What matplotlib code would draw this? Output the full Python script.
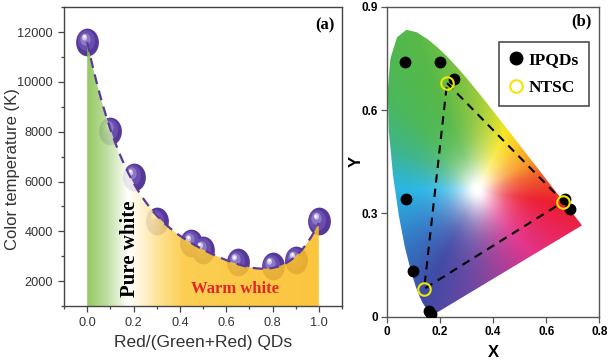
import numpy as np
import matplotlib
matplotlib.use("Agg")
import matplotlib.pyplot as plt
from matplotlib.path import Path
from matplotlib.markers import MarkerStyle
from matplotlib.transforms import Affine2D, ScaledTranslation
from matplotlib.colors import LinearSegmentedColormap, to_rgb
from matplotlib.patches import Polygon
from matplotlib.lines import Line2D
from matplotlib.ticker import MultipleLocator, FixedLocator

SANS = ["Liberation Sans", "DejaVu Sans"]
SERIF = ["Liberation Serif", "DejaVu Serif"]

# ---------------- panel (a): colour temperature vs red QD fraction ----------
red_fraction = [0.0, 0.1, 0.2, 0.3, 0.45, 0.5, 0.65, 0.8, 0.9, 1.0]
cct_kelvin = [11600, 8050, 6200, 4400, 3550, 3250, 2750, 2600, 2850, 4400]
a_xticks = [0.0, 0.2, 0.4, 0.6, 0.8, 1.0]
a_xticklabels = ["0.0", "0.2", "0.4", "0.6", "0.8", "1.0"]
a_yticks = [2000, 4000, 6000, 8000, 10000, 12000]
a_yticklabels = ["2000", "4000", "6000", "8000", "10000", "12000"]

# ---------------- panel (b): CIE 1931 chromaticity --------------------------
ipqd_x = [0.069, 0.199, 0.252, 0.072, 0.098, 0.160, 0.168, 0.671, 0.690]
ipqd_y = [0.739, 0.739, 0.690, 0.342, 0.134, 0.016, 0.008, 0.341, 0.312]
ntsc_x = [0.227, 0.665, 0.141]
ntsc_y = [0.679, 0.334, 0.081]
b_xticks = [0.0, 0.2, 0.4, 0.6, 0.8]
b_xticklabels = ["0", "0.2", "0.4", "0.6", "0.8"]
b_yticks = [0.0, 0.3, 0.6, 0.9]
b_yticklabels = ["0", "0.3", "0.6", "0.9"]

# spectral locus (CIE 1931 2-degree observer), 380-700 nm
locus_x = [0.1741, 0.1740, 0.1738, 0.1736, 0.1733, 0.1730, 0.1726, 0.1721,
           0.1714, 0.1703, 0.1689, 0.1669, 0.1644, 0.1611, 0.1566, 0.1510,
           0.1440, 0.1355, 0.1241, 0.1096, 0.0913, 0.0687, 0.0454, 0.0235,
           0.0082, 0.0039, 0.0139, 0.0389, 0.0743, 0.1142, 0.1547, 0.1929,
           0.2296, 0.2658, 0.3016, 0.3373, 0.3731, 0.4087, 0.4441, 0.4788,
           0.5125, 0.5448, 0.5752, 0.6029, 0.6270, 0.6482, 0.6658, 0.6801,
           0.6915, 0.7006, 0.7079, 0.7140, 0.7190, 0.7230, 0.7260, 0.7283,
           0.7300, 0.7311, 0.7320, 0.7334, 0.7344, 0.7347]
locus_y = [0.0050, 0.0050, 0.0049, 0.0049, 0.0048, 0.0048, 0.0048, 0.0048,
           0.0051, 0.0058, 0.0069, 0.0086, 0.0109, 0.0138, 0.0177, 0.0227,
           0.0297, 0.0399, 0.0578, 0.0868, 0.1327, 0.2007, 0.2950, 0.4127,
           0.5384, 0.6548, 0.7502, 0.8120, 0.8338, 0.8262, 0.8059, 0.7816,
           0.7543, 0.7243, 0.6923, 0.6589, 0.6245, 0.5896, 0.5547, 0.5202,
           0.4866, 0.4544, 0.4242, 0.3965, 0.3725, 0.3514, 0.3340, 0.3197,
           0.3083, 0.2993, 0.2920, 0.2859, 0.2809, 0.2770, 0.2740, 0.2717,
           0.2700, 0.2689, 0.2680, 0.2666, 0.2656, 0.2653]

# hue wheel around the white point used to shade the diagram
white_xy = (0.34, 0.37)
hue_angles = [-180, -150, -123, -96, -70, -43, -20, -8, 10, 22, 42, 58,
              80, 95, 118, 140, 158, 180]
hue_colors = ["#29b5e6", "#3478c4", "#3f4aa6", "#6a48a2", "#a23e98",
              "#e2338b", "#ea2456", "#ec1c2e", "#f05a24", "#f7941d",
              "#fbc81a", "#f5e61a", "#b5d334", "#8cc63f", "#56b848",
              "#4cb85a", "#3fb58a", "#29b5e6"]

fig = plt.figure(figsize=(6.08, 3.62), dpi=100)
fig.patch.set_facecolor("white")

# =============================== panel (a) ==================================
ax1 = fig.add_axes([0.1053, 0.1547, 0.4572, 0.8251])

coeffs = np.polyfit(red_fraction, cct_kelvin, 4)
xs = np.linspace(0.0, 1.0, 300)
fit = np.polyval(coeffs, xs)

# shaded spheres (drawn beneath the translucent fill)
ell = Path(Affine2D().scale(0.82, 1.0).transform(Path.unit_circle().vertices),
           Path.unit_circle().codes)
sphere = MarkerStyle(ell)
layers = [(20, "#55389a", 0, 0), (15, "#6a4eae", -1.0, 1.2),
          (9, "#8d78c6", -1.8, 2.4), (4.5, "#cfc4ec", -2.4, 3.6),
          (2.2, "#ffffff", -2.6, 4.2)]
for size, col, ox, oy in layers:
    tr = ax1.transData + ScaledTranslation(ox / 72, oy / 72, fig.dpi_scale_trans)
    ax1.plot(red_fraction, cct_kelvin, ls="none", marker=sphere, ms=size,
             mfc=col, mec="none", transform=tr, zorder=1)

# gradient fill below the fitted curve
grad_cmap = LinearSegmentedColormap.from_list(
    "cct_fill", [(0.0, "#86c34e"), (0.08, "#b2d98e"), (0.175, "#ffffff"),
                 (0.23, "#fff4d2"), (0.32, "#fddc7c"), (0.42, "#fcc83a"),
                 (1.0, "#fbbd22")])
grad = np.linspace(0, 1, 512)[None, :]
im1 = ax1.imshow(grad, cmap=grad_cmap, extent=[0, 1, 1000, 13000],
                 aspect="auto", origin="lower", alpha=0.88, zorder=2,
                 interpolation="bilinear")
fill_poly = Polygon(np.column_stack([np.r_[xs, 1.0, 0.0],
                                     np.r_[fit, 1000, 1000]]),
                    closed=True, transform=ax1.transData,
                    facecolor="none", edgecolor="none")
im1.set_clip_path(fill_poly)

ax1.plot(xs, fit, color="#5b3a9e", lw=1.6, ls=(0, (4.5, 3)), zorder=3)

ax1.text(0.185, 3300, "Pure white", rotation=90, ha="center", va="center",
         fontsize=15, fontweight="bold", family=SERIF, color="black",
         zorder=4)
ax1.text(0.637, 1700, "Warm white", ha="center", va="center", fontsize=12,
         fontweight="bold", family=SERIF, color="#e3262b", zorder=4)
ax1.text(0.94, 0.94, "(a)", transform=ax1.transAxes, ha="center",
         va="center", fontsize=12, fontweight="bold", family=SERIF)

ax1.set_xlim(-0.1, 1.1)
ax1.set_ylim(1000, 13000)
ax1.xaxis.set_major_locator(FixedLocator(a_xticks))
ax1.set_xticklabels(a_xticklabels)
ax1.xaxis.set_minor_locator(MultipleLocator(0.1))
ax1.yaxis.set_major_locator(FixedLocator(a_yticks))
ax1.set_yticklabels(a_yticklabels)
ax1.yaxis.set_minor_locator(MultipleLocator(1000))
ax1.tick_params(which="both", direction="out", colors="#444444",
                labelcolor="#333333", labelsize=9.2, width=0.9)
ax1.tick_params(which="major", length=4.5)
ax1.tick_params(which="minor", length=2.5)
for lab in ax1.get_xticklabels() + ax1.get_yticklabels():
    lab.set_family(SANS)
for sp in ax1.spines.values():
    sp.set_color("#444444")
    sp.set_linewidth(1.0)
ax1.set_xlabel("Red/(Green+Red) QDs", fontsize=12.5, family=SANS,
               color="#333333", labelpad=4)
ax1.set_ylabel("Color temperature (K)", fontsize=12, family=SANS,
               color="#333333")
ax1.yaxis.set_label_coords(-0.158, 0.46)

# =============================== panel (b) ==================================
ax2 = fig.add_axes([0.636, 0.1251, 0.3497, 0.8556])

nx, ny = 420, 470
gx = np.linspace(0, 0.8, nx)
gy = np.linspace(0, 0.9, ny)
GX, GY = np.meshgrid(gx, gy)
dx = GX - white_xy[0]
dy = GY - white_xy[1]
ang = np.degrees(np.arctan2(dy, dx))
dist = np.hypot(dx, dy)
anchor_rgb = np.array([to_rgb(c) for c in hue_colors])
rgb = np.stack([np.interp(ang, hue_angles, anchor_rgb[:, k])
                for k in range(3)], axis=-1)
sat = 1 - np.exp(-np.clip((dist - 0.01) / 0.085, 0, None) ** 1.4)
img = 1 - sat[..., None] * (1 - rgb)
im2 = ax2.imshow(img, extent=[0, 0.8, 0, 0.9], origin="lower",
                 interpolation="bilinear", aspect="auto", zorder=1)
locus_poly = Polygon(np.column_stack([locus_x, locus_y]), closed=True,
                     transform=ax2.transData, facecolor="none",
                     edgecolor="none")
im2.set_clip_path(locus_poly)

ax2.plot(ntsc_x + ntsc_x[:1], ntsc_y + ntsc_y[:1], color="black", lw=1.5,
         ls=(0, (4, 3)), zorder=2)
ax2.plot(ipqd_x, ipqd_y, ls="none", marker="o", ms=7.5, mfc="black",
         mec="black", zorder=3)
ax2.plot(ntsc_x, ntsc_y, ls="none", marker="o", ms=9, mfc="none",
         mec="#f2e600", mew=1.5, zorder=4)

handles = [Line2D([], [], ls="none", marker="o", ms=9, mfc="black",
                  mec="black"),
           Line2D([], [], ls="none", marker="o", ms=9, mfc="none",
                  mec="#f2e600", mew=1.5)]
leg = ax2.legend(handles, ["IPQDs", "NTSC"], loc="upper right",
                 bbox_to_anchor=(0.953, 0.888), borderaxespad=0,
                 frameon=True, fancybox=False, handlelength=0.8,
                 handletextpad=0.3, borderpad=0.6, labelspacing=0.65,
                 prop={"family": SERIF, "weight": "bold", "size": 12.5})
leg.get_frame().set_edgecolor("#222222")
leg.get_frame().set_linewidth(1.2)

ax2.text(0.917, 0.953, "(b)", transform=ax2.transAxes, ha="center",
         va="center", fontsize=12, fontweight="bold", family=SERIF)

ax2.set_xlim(0, 0.8)
ax2.set_ylim(0, 0.9)
ax2.xaxis.set_major_locator(FixedLocator(b_xticks))
ax2.set_xticklabels(b_xticklabels)
ax2.yaxis.set_major_locator(FixedLocator(b_yticks))
ax2.set_yticklabels(b_yticklabels)
ax2.tick_params(direction="out", length=4.5, width=0.9, colors="#555555",
                labelcolor="black", labelsize=8.5, pad=2)
for lab in ax2.get_xticklabels() + ax2.get_yticklabels():
    lab.set_family(SANS)
    lab.set_fontweight("bold")
for sp in ax2.spines.values():
    sp.set_color("#555555")
    sp.set_linewidth(1.0)
ax2.set_xlabel("X", fontsize=12, fontweight="bold", family=SANS, labelpad=5)
ax2.set_ylabel("Y", fontsize=12, fontweight="bold", family=SANS)
ax2.yaxis.set_label_coords(-0.107, 0.5)

fig.savefig("out.png", dpi=100, facecolor="white")
